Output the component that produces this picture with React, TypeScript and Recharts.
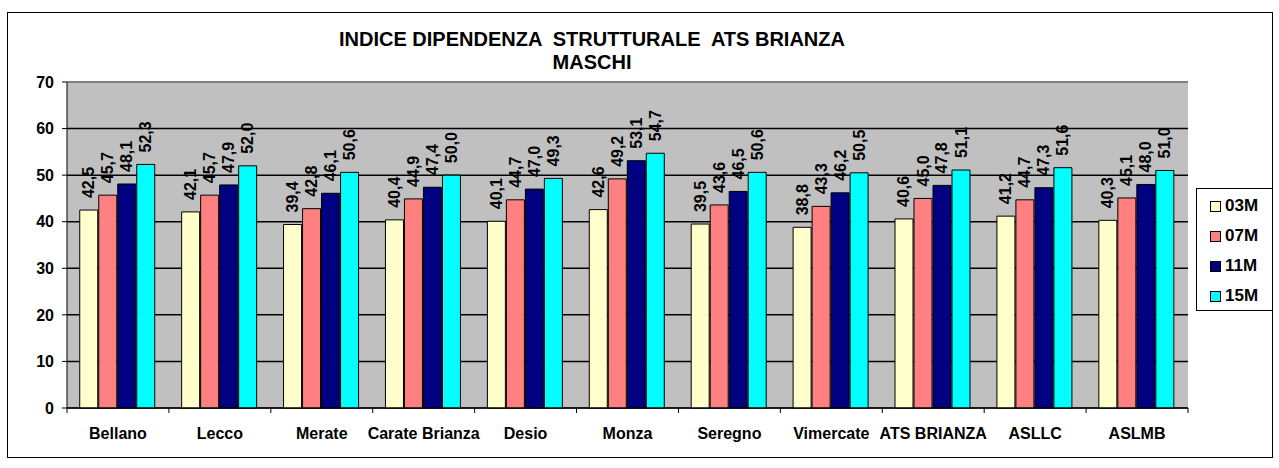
import React from "react";
import {
  BarChart,
  Bar,
  XAxis,
  YAxis,
  CartesianGrid,
  LabelList,
  ReferenceLine,
} from "recharts";

const categories = [
  "Bellano",
  "Lecco",
  "Merate",
  "Carate Brianza",
  "Desio",
  "Monza",
  "Seregno",
  "Vimercate",
  "ATS BRIANZA",
  "ASLLC",
  "ASLMB",
];
const m03 = [42.5, 42.1, 39.4, 40.4, 40.1, 42.6, 39.5, 38.8, 40.6, 41.2, 40.3];
const m07 = [45.7, 45.7, 42.8, 44.9, 44.7, 49.2, 43.6, 43.3, 45.0, 44.7, 45.1];
const m11 = [48.1, 47.9, 46.1, 47.4, 47.0, 53.1, 46.5, 46.2, 47.8, 47.3, 48.0];
const m15 = [52.3, 52.0, 50.6, 50.0, 49.3, 54.7, 50.6, 50.5, 51.1, 51.6, 51.0];
const yTicks = [0, 10, 20, 30, 40, 50, 60, 70];

const SERIES = [
  { key: "03M", color: "#FFFFCC" },
  { key: "07M", color: "#FF8080" },
  { key: "11M", color: "#000080" },
  { key: "15M", color: "#00FFFF" },
];

const FONT = "'Liberation Sans', Arial, sans-serif";

const data = categories.map((name, i) => ({
  name,
  "03M": m03[i],
  "07M": m07[i],
  "11M": m11[i],
  "15M": m15[i],
}));

const fmt = (v: number) => v.toFixed(1).replace(".", ",");

function ValueLabel(props: any) {
  const { x, y, width, value } = props;
  const cx = x + width / 2;
  const ty = y - 12;
  return (
    <text
      x={cx}
      y={ty}
      transform={`rotate(-90, ${cx}, ${ty})`}
      textAnchor="start"
      dominantBaseline="central"
      fontFamily={FONT}
      fontWeight="bold"
      fontSize={16}
      fill="#000"
    >
      {fmt(value)}
    </text>
  );
}

// category tick: label centred, tick mark on the category boundary
function CatTick(props: any) {
  const { x, y, payload, index } = props;
  const band = 1121 / categories.length;
  const left = x - band / 2;
  return (
    <g>
      <line x1={left} y1={y - 8} x2={left} y2={y - 3} stroke="#000" />
      {index === categories.length - 1 && (
        <line x1={left + band} y1={y - 8} x2={left + band} y2={y - 3} stroke="#000" />
      )}
      <text
        x={x}
        y={y + 23}
        textAnchor="middle"
        fontFamily={FONT}
        fontWeight="bold"
        fontSize={16}
        fill="#000"
      >
        {payload.value}
      </text>
    </g>
  );
}

function LegendBox() {
  return (
    <div
      style={{
        position: "absolute",
        left: 1196,
        top: 188,
        width: 77,
        height: 123,
        border: "1px solid #000",
        background: "#fff",
        boxSizing: "border-box",
        paddingTop: 2,
        paddingLeft: 13,
      }}
    >
      {SERIES.map((s) => (
        <div
          key={s.key}
          style={{
            display: "flex",
            alignItems: "center",
            height: 30,
            fontFamily: FONT,
            fontWeight: "bold",
            fontSize: 17,
          }}
        >
          <span
            style={{
              display: "inline-block",
              width: 9,
              height: 9,
              background: s.color,
              border: "1px solid #000",
              marginRight: 4,
            }}
          />
          {s.key}
        </div>
      ))}
    </div>
  );
}

export default function App() {
  return (
    <div style={{ position: "absolute", left: 0, top: 0, width: 1279, height: 468, background: "#fff" }}>
      <div
        style={{
          position: "absolute",
          left: 7,
          top: 12,
          width: 1266,
          height: 446,
          border: "1px solid #000",
          boxSizing: "border-box",
        }}
      />
      <div
        style={{
          position: "absolute",
          left: 242,
          top: 28,
          width: 700,
          textAlign: "center",
          fontFamily: FONT,
          fontWeight: "bold",
          fontSize: 20,
          lineHeight: "23px",
          whiteSpace: "pre",
        }}
      >
        {"INDICE DIPENDENZA  STRUTTURALE  ATS BRIANZA\nMASCHI"}
      </div>
      <div style={{ position: "absolute", left: 0, top: 0 }}>
        <BarChart
          width={1279}
          height={468}
          data={data}
          margin={{ top: 82, right: 91, bottom: 20, left: 10 }}
          barCategoryGap="12.5%"
          barGap={1}
        >
          <CartesianGrid vertical={false} stroke="#000" strokeWidth={1.5} fill="#C0C0C0" />
          <XAxis
            dataKey="name"
            interval={0}
            height={40}
            tickLine={false}
            axisLine={{ stroke: "#000" }}
            tick={<CatTick />}
          />
          <YAxis
            domain={[0, 70]}
            ticks={yTicks}
            width={57}
            tickSize={5}
            tickMargin={8}
            axisLine={{ stroke: "#000" }}
            tickLine={{ stroke: "#000" }}
            tick={{ fontFamily: FONT, fontWeight: "bold", fontSize: 16, fill: "#000" }}
          />
          <ReferenceLine y={70} stroke="#808080" strokeWidth={2} />
          {SERIES.map((s) => (
            <Bar
              key={s.key}
              dataKey={s.key}
              fill={s.color}
              stroke="#000"
              strokeWidth={1}
              isAnimationActive={false}
            >
              <LabelList dataKey={s.key} content={<ValueLabel />} />
            </Bar>
          ))}
        </BarChart>
      </div>
      <LegendBox />
    </div>
  );
}
